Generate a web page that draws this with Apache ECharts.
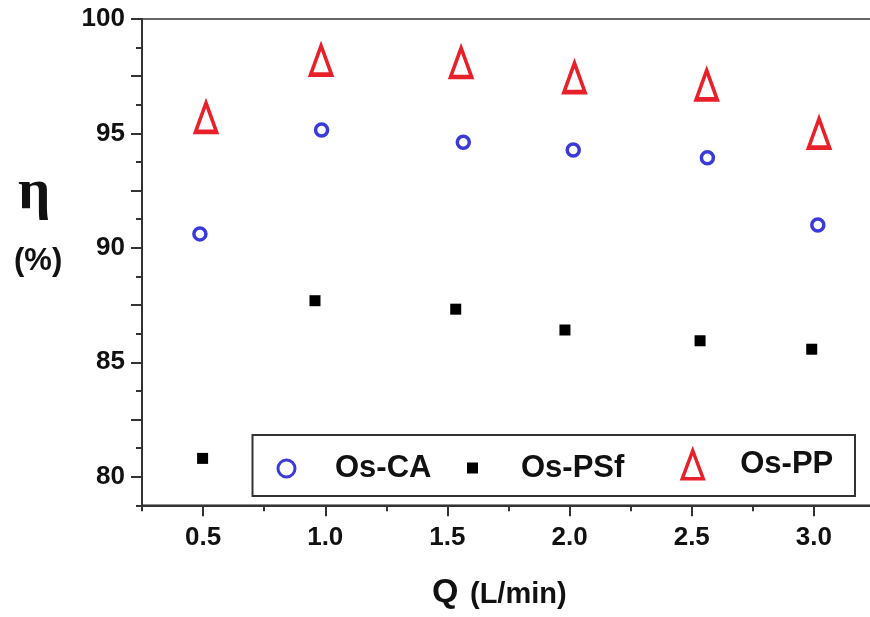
<!DOCTYPE html>
<html>
<head>
<meta charset="utf-8">
<title>eta vs Q</title>
<script src="https://cdn.jsdelivr.net/npm/echarts@6.0.0/dist/echarts.min.js"></script>
<style>
    html, body {margin: 0; padding: 0; background: #fff;}
    #main {width: 870px; height: 617px;}
</style>
</head>
<body>
<div id="main"></div>
<script>
// 数据
var qCA = [0.487, 0.985, 1.565, 2.015, 2.564, 3.016];
var etaCA = [90.61, 95.15, 94.61, 94.28, 93.94, 91.00];
var qPSf = [0.498, 0.958, 1.534, 1.981, 2.534, 2.991];
var etaPSf = [80.80, 87.69, 87.32, 86.41, 85.94, 85.57];
var qPP = [0.512, 0.983, 1.556, 2.020, 2.561, 3.021];
var etaPP = [95.70, 98.20, 98.10, 97.44, 97.12, 95.01];

// 刻度
var xMajor = [0.5, 1.0, 1.5, 2.0, 2.5, 3.0];
var yMajor = [80, 82.5, 85, 87.5, 90, 92.5, 95, 97.5, 100];
var yLabels = [80, 85, 90, 95, 100];

function pairs(xs, ys) {
    var out = [];
    for (var i = 0; i < xs.length; i++) {
        out.push([xs[i], ys[i]]);
    }
    return out;
}

var font = "'Liberation Sans', Arial, sans-serif";
var axisColor = '#333';
var blue = '#3a3ad8';
var red = '#e8202a';

var myChart = echarts.init(document.getElementById('main'));

var legendText = function (pad) {
    return {fontSize: 31, fontWeight: 'bold', fontFamily: font, color: '#111', padding: pad};
};

var option = {
    animation: false,
    grid: {
        left: 142,
        top: 19,
        width: 733,
        height: 486.3,
        outerBoundsMode: 'none',
        containLabel: false,
        show: true,
        borderColor: '#666',
        borderWidth: 2,
        backgroundColor: 'transparent'
    },
    xAxis: [
        {//小刻度 + 轴线
            type: 'value',
            position: 'bottom',
            min: 0.25,
            max: 3.25,
            interval: 0.25,
            axisLine: {show: true, onZero: false, lineStyle: {color: axisColor, width: 2}},
            axisTick: {show: true, inside: false, length: 6, lineStyle: {color: axisColor, width: 2}},
            axisLabel: {show: false},
            splitLine: {show: false}
        },
        {//大刻度 + 标签
            type: 'value',
            position: 'bottom',
            min: 0.25,
            max: 3.25,
            interval: 0.25,
            axisLine: {show: false, onZero: false},
            axisTick: {show: true, length: 11, customValues: xMajor, lineStyle: {color: axisColor, width: 2}},
            axisLabel: {
                show: true,
                customValues: xMajor,
                margin: 20,
                color: '#111',
                fontSize: 26,
                fontWeight: 'bold',
                fontFamily: font,
                formatter: function (v) { return v.toFixed(1); }
            },
            splitLine: {show: false}
        }
    ],
    yAxis: [
        {
            type: 'value',
            position: 'left',
            min: 78.75,
            max: 100,
            interval: 1.25,
            axisLine: {show: true, onZero: false, lineStyle: {color: axisColor, width: 2}},
            axisTick: {show: true, inside: false, length: 6, lineStyle: {color: axisColor, width: 2}},
            axisLabel: {show: false},
            splitLine: {show: false}
        },
        {
            type: 'value',
            position: 'left',
            min: 78.75,
            max: 100,
            interval: 1.25,
            axisLine: {show: false, onZero: false},
            axisTick: {show: true, length: 11, customValues: yMajor, lineStyle: {color: axisColor, width: 2}},
            axisLabel: {
                show: true,
                customValues: yLabels,
                margin: 17,
                color: '#111',
                fontSize: 26,
                fontWeight: 'bold',
                fontFamily: font
            },
            splitLine: {show: false}
        }
    ],
    legend: [
        {
            data: ['Os-CA'],
            left: 276.5, top: 453,
            padding: 0,
            itemWidth: 17, itemHeight: 17,
            itemStyle: {borderWidth: 3},
            selectedMode: false,
            textStyle: legendText([4, 0, 0, 35])
        },
        {
            data: ['Os-PSf'],
            left: 467, top: 452.5,
            padding: 0,
            itemWidth: 11, itemHeight: 11,
            selectedMode: false,
            textStyle: legendText([4, 0, 0, 38])
        },
        {
            data: ['Os-PP'],
            left: 680.5, top: 449,
            padding: 0,
            itemWidth: 21, itemHeight: 28,
            itemStyle: {borderWidth: 3.5},
            symbolKeepAspect: false,
            selectedMode: false,
            textStyle: legendText([8, 0, 0, 32])
        }
    ],
    graphic: [
        {//图例边框
            type: 'rect',
            z: 0,
            shape: {x: 252.5, y: 435, width: 602.5, height: 61},
            style: {fill: '#fff', stroke: '#333', lineWidth: 2}
        },
        {
            type: 'text',
            left: 18, top: 165,
            style: {text: 'η', font: "bold 57px 'Liberation Serif', 'Times New Roman', serif", fill: '#111'}
        },
        {
            type: 'text',
            left: 14, top: 246,
            style: {text: '(%)', font: 'bold 31px ' + font, fill: '#111'}
        },
        {
            type: 'text',
            left: 432, top: 576,
            style: {text: 'Q', font: 'bold 34px ' + font, fill: '#111'}
        },
        {
            type: 'text',
            left: 470, top: 580,
            style: {text: '(L/min)', font: 'bold 29px ' + font, fill: '#111'}
        }
    ],
    series: [
        {
            name: 'Os-CA',
            type: 'scatter',
            symbol: 'circle',
            symbolSize: 12,
            itemStyle: {color: '#fff', borderColor: blue, borderWidth: 3.5, opacity: 1},
            data: pairs(qCA, etaCA)
        },
        {
            name: 'Os-PSf',
            type: 'scatter',
            symbol: 'rect',
            symbolSize: 11,
            itemStyle: {color: '#000', opacity: 1},
            data: pairs(qPSf, etaPSf)
        },
        {
            name: 'Os-PP',
            type: 'scatter',
            symbol: 'triangle',
            symbolSize: [21, 29],
            itemStyle: {color: '#fff', borderColor: red, borderWidth: 4, opacity: 1},
            data: pairs(qPP, etaPP)
        }
    ]
};

myChart.setOption(option);
</script>
</body>
</html>
